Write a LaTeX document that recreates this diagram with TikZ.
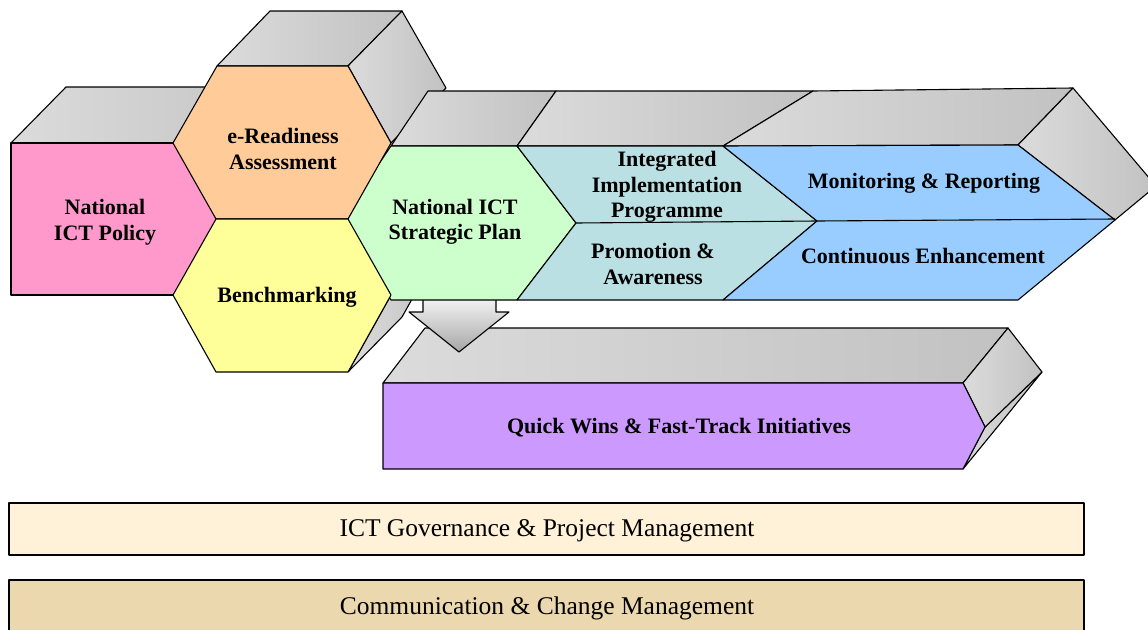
\documentclass[tikz,border=0pt]{standalone}
\usepackage{fontspec}
\setmainfont{Liberation Serif}

\definecolor{policypink}{HTML}{FF99CC}
\definecolor{readyorange}{HTML}{FFCC99}
\definecolor{benchyellow}{HTML}{FFFF99}
\definecolor{plangreen}{HTML}{CCFFCC}
\definecolor{progteal}{HTML}{BBE0E3}
\definecolor{monitorblue}{HTML}{99CCFF}
\definecolor{quickpurple}{HTML}{CC99FF}
\definecolor{governcream}{HTML}{FFF2D9}
\definecolor{commtan}{HTML}{EBD8AF}

\begin{document}
\begin{tikzpicture}[x=1pt, y=-1pt, line join=round,
    face/.style={draw, line width=1.1pt, fill=#1},
    side/.style={draw, line width=1.1pt, left color=black!14, right color=black!24},
    lbl/.style={align=center, font=\fontsize{22}{25.5}\selectfont\bfseries},
    bar/.style={draw, line width=1.6pt, fill=#1},
    barlbl/.style={font=\fontsize{25.5}{28}\selectfont}]

    \useasboundingbox (0,0) rectangle (1148,629);
    \clip (0,0) rectangle (1148,629);

    % National ICT Policy block
    \draw[side] (11,143) -- (66,87) -- (315,87) -- (260,143) -- cycle;
    \draw[face=policypink] (11,143) rectangle (260,295);

    % Back faces of the two hexagons
    \draw[side] (217,66) -- (270,11) -- (402,11) -- (348,66) -- cycle;
    \draw[side] (348,66) -- (402,11) -- (446,88) -- (391,143) -- cycle;
    \draw[side] (348,372) -- (402,317) -- (445,240) -- (391,295) -- cycle;

    % Quick wins block
    \draw[side] (383,383) -- (425,328) -- (1008,328) -- (963,383) -- cycle;
    \draw[side] (963,469) -- (985,427) -- (1042,372) -- (1008,414) -- cycle;
    \draw[side] (963,383) -- (1008,328) -- (1042,372) -- (985,427) -- cycle;
    \draw[face=quickpurple] (383,383) -- (963,383) -- (985,427) -- (963,469) -- (383,469) -- cycle;

    % Down arrow from the strategic plan
    \draw[line width=1.1pt, top color=white, bottom color=black!35]
        (423,290) -- (496,290) -- (496,312) -- (509,312) -- (459,352)
        -- (409,312) -- (423,312) -- cycle;

    % Strategic plan chevron
    \draw[side] (391,146) -- (428,91) -- (556,91) -- (517,146) -- cycle;
    \draw[face=plangreen] (391,146) -- (517,146) -- (576,223) -- (517,300)
        -- (391,300) -- (340,221) -- cycle;

    % Implementation / promotion chevron
    \draw[side] (517,146) -- (556,91) -- (813,91) -- (723,146) -- cycle;
    \draw[face=progteal] (517,146) -- (723,146) -- (817,221) -- (723,300)
        -- (517,300) -- (576,223) -- cycle;
    \draw[line width=1.1pt] (576,223) -- (817,221);

    % Monitoring / enhancement chevron
    \draw[side] (723,146) -- (813,91) -- (1073,88) -- (1018,145) -- cycle;
    \draw[side] (1018,145) -- (1073,88) -- (1156,186) -- (1115,220) -- cycle;
    \draw[face=monitorblue] (723,146) -- (1018,145) -- (1115,220) -- (1018,300)
        -- (723,300) -- (817,221) -- cycle;
    \draw[line width=1.1pt] (817,221) -- (1115,219);

    % Hexagons
    \draw[face=readyorange] (217,66) -- (348,66) -- (391,143) -- (348,219)
        -- (216,219) -- (173,143) -- cycle;
    \draw[face=benchyellow] (216,219) -- (348,219) -- (391,295) -- (348,372)
        -- (216,372) -- (173,295) -- cycle;

    % Bottom bars
    \draw[bar=governcream] (9,503) rectangle (1084,555);
    \draw[bar=commtan] (9,580) rectangle (1084,640);

    % Labels
    \node[lbl] (policy) at (105,222) {National\\ICT Policy};
    \node[lbl] (ready) at (283,149) {e-Readiness\\Assessment};
    \node[lbl] (bench) at (287,297) {Benchmarking};
    \node[lbl] (plan) at (455,222) {National ICT\\Strategic Plan};
    \node[lbl] (integ) at (667,187) {Integrated\\Implementation\\Programme};
    \node[lbl] (promo) at (653,264) {Promotion \&\\Awareness};
    \node[lbl] (monitor) at (924,183) {Monitoring \& Reporting};
    \node[lbl] (enhance) at (923,256) {Continuous Enhancement};
    \node[lbl] (quick) at (679,428) {Quick Wins \& Fast-Track Initiatives};
    \node[barlbl] (govern) at (547,531) {ICT Governance \& Project Management};
    \node[barlbl] (comm) at (547,608) {Communication \& Change Management};

\end{tikzpicture}
\end{document}
